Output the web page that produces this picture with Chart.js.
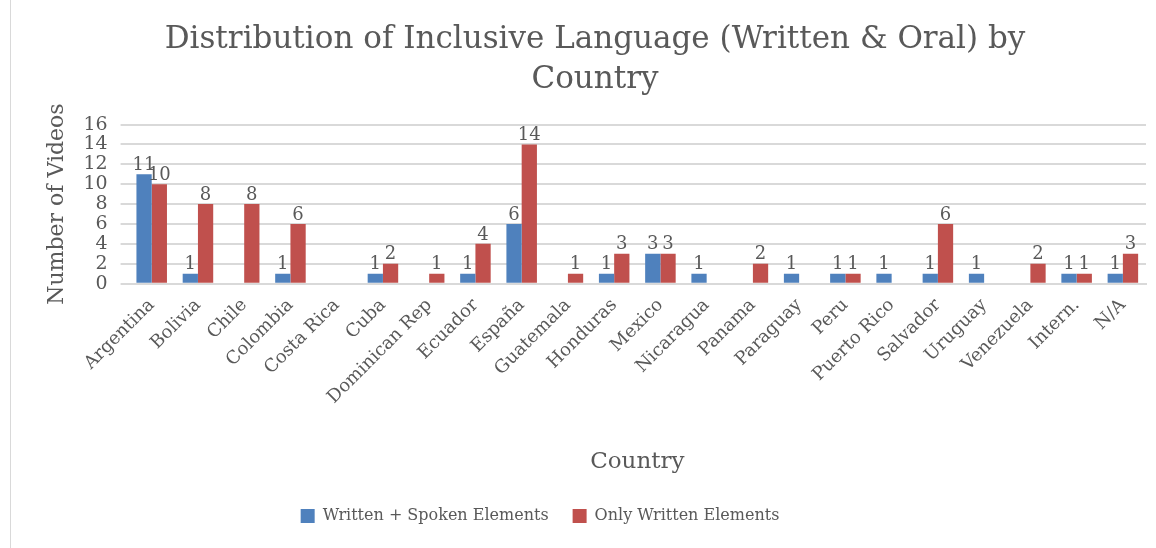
<!DOCTYPE html>
<html>
<head>
<meta charset="utf-8">
<script src="https://cdn.jsdelivr.net/npm/chart.js@4/dist/chart.umd.min.js"></script>
<style>
  html, body { margin: 0; padding: 0; background: #fff; }
  #wrap { position: relative; height: 548px; box-sizing: border-box; border-left: 1px solid #d9d9d9; margin-left: 10px; width: 1146px; }
</style>
</head>
<body>
<div id="wrap"><canvas id="countryChart"></canvas></div>
<script>
const countries = ["Argentina", "Bolivia", "Chile", "Colombia", "Costa Rica", "Cuba", "Dominican Rep", "Ecuador", "España", "Guatemala", "Honduras", "Mexico", "Nicaragua", "Panama", "Paraguay", "Peru", "Puerto Rico", "Salvador", "Uruguay", "Venezuela", "Intern.", "N/A"];
const writtenSpoken = [11, 1, null, 1, null, 1, null, 1, 6, null, 1, 3, 1, null, 1, 1, 1, 1, 1, null, 1, 1];
const onlyWritten = [10, 8, 8, 6, null, 2, 1, 4, 14, 1, 3, 3, null, 2, null, 1, null, 6, null, 2, 1, 3];
const yTicks = [0, 2, 4, 6, 8, 10, 12, 14, 16];

const serif = "'DejaVu Serif', serif";
const grey = "#595959";

// draws the value above each bar, like Excel data labels
const barLabels = {
    id: "barLabels",
    afterDatasetsDraw(chart) {
        const ctx = chart.ctx;
        ctx.save();
        ctx.font = "18px " + serif;
        ctx.fillStyle = grey;
        ctx.textAlign = "center";
        ctx.textBaseline = "bottom";
        chart.data.datasets.forEach(function (ds, i) {
            chart.getDatasetMeta(i).data.forEach(function (bar, j) {
                if (ds.data[j] == null) return;
                ctx.fillText(ds.data[j], bar.x, bar.y);
            });
        });
        ctx.restore();
    }
};

// the legend in the original sits a bit left of centre
const legendShift = {
    id: "legendShift",
    afterLayout(chart) {
        chart.legend.left -= 55;
        chart.legend.right -= 55;
    }
};

document.addEventListener("DOMContentLoaded", function () {
    const ctx = document.getElementById("countryChart").getContext("2d");

    new Chart(ctx, {
        type: "bar",
        data: {
            labels: countries,
            datasets: [{
                label: "Written + Spoken Elements",
                data: writtenSpoken,
                backgroundColor: "#4f81bd",
                barPercentage: 1,
                categoryPercentage: 0.66
            }, {
                label: "Only Written Elements",
                data: onlyWritten,
                backgroundColor: "#c0504d",
                barPercentage: 1,
                categoryPercentage: 0.66
            }]
        },
        options: {
            responsive: true,
            maintainAspectRatio: false,
            animation: false,
            layout: { padding: { top: 8, right: 10, left: 33, bottom: 14 } },
            plugins: {
                title: {
                    display: true,
                    text: ["Distribution of Inclusive Language (Written & Oral) by", "Country"],
                    color: grey,
                    font: { family: serif, size: 31, weight: "normal", lineHeight: 1.3 },
                    padding: { top: 12, bottom: 24 }
                },
                legend: {
                    position: "bottom",
                    labels: {
                        color: grey,
                        font: { family: serif, size: 16 },
                        boxWidth: 14,
                        boxHeight: 14,
                        padding: 24
                    }
                },
                tooltip: { enabled: false }
            },
            scales: {
                x: {
                    grid: { display: false },
                    border: { color: "#d9d9d9", width: 2 },
                    ticks: {
                        color: grey,
                        font: { family: serif, size: 18 },
                        maxRotation: 45,
                        minRotation: 45,
                        autoSkip: false
                    },
                    title: {
                        display: true,
                        text: "Country",
                        color: grey,
                        font: { family: serif, size: 23 },
                        padding: { top: 37, bottom: 8 }
                    }
                },
                y: {
                    min: 0,
                    max: 16,
                    afterBuildTicks: function (axis) {
                        axis.ticks = yTicks.map(function (v) { return { value: v }; });
                    },
                    grid: { color: "#d9d9d9", lineWidth: 2 },
                    border: { display: false },
                    ticks: {
                        color: grey,
                        font: { family: serif, size: 19 },
                        padding: 13,
                        autoSkip: false
                    },
                    title: {
                        display: true,
                        text: "Number of Videos",
                        color: grey,
                        font: { family: serif, size: 22 },
                        padding: 0
                    }
                }
            }
        },
        plugins: [barLabels, legendShift]
    });
});
</script>
</body>
</html>
